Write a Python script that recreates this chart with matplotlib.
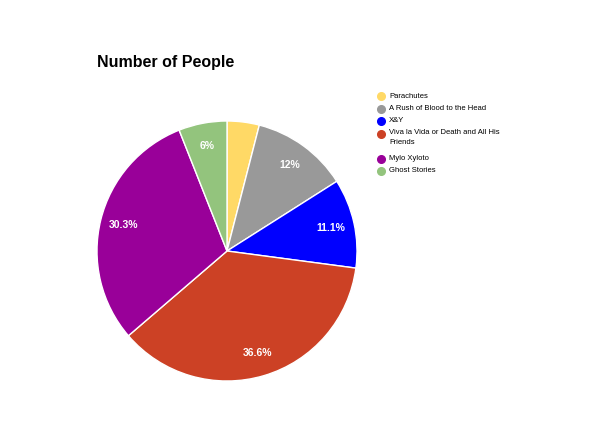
import numpy as np
import matplotlib.pyplot as plt
from matplotlib.lines import Line2D

plt.rcParams['font.family'] = ['Liberation Sans', 'DejaVu Sans']

albums = ['Parachutes', 'A Rush of Blood to the Head', 'X&Y',
          'Viva la Vida or Death and All His\nFriends', 'Mylo Xyloto', 'Ghost Stories']
people = [4.0, 12.0, 11.1, 36.6, 30.3, 6.0]
colors = ['#ffd966', '#999999', '#0000ff', '#cc4125', '#990099', '#93c47d']

fig = plt.figure(figsize=(5.96, 4.43), dpi=100)
ax = fig.add_axes([97 / 596, (443 - 381) / 443, 260 / 596, 260 / 443])

total = sum(people)

wedges, texts = ax.pie(people, colors=colors, startangle=90, counterclock=False,
                       wedgeprops=dict(edgecolor='white', linewidth=1))

# percentage labels, small slices left blank like the original
for w, v in zip(wedges, people):
    ang = np.deg2rad((w.theta1 + w.theta2) / 2)
    p = v / total * 100
    if p >= 5:
        ax.text(0.82 * np.cos(ang), 0.82 * np.sin(ang), f'{p:.3g}%', color='white',
                fontsize=7.5, fontweight='bold', ha='center', va='center')
ax.set_xlim(-1, 1)
ax.set_ylim(-1, 1)
ax.set_aspect('equal')
ax.axis('off')

fig.text(97 / 596, 1 - 63 / 443, 'Number of People', fontsize=11.5, fontweight='bold',
         ha='left', va='center')

# legend
y = 96
for lab, c in zip(albums, colors):
    fig.add_artist(Line2D([381 / 596], [1 - y / 443], marker='o', markersize=5.5,
                          color=c, linestyle='none', transform=fig.transFigure))
    if '\n' in lab:
        fig.text(389 / 596, 1 - (y - 5) / 443, lab, fontsize=5.5, ha='left', va='top',
                 linespacing=1.7)
        y += 25
    else:
        fig.text(389 / 596, 1 - y / 443, lab, fontsize=5.5, ha='left', va='center')
        y += 12.5

fig.savefig('out.png', dpi=100)
